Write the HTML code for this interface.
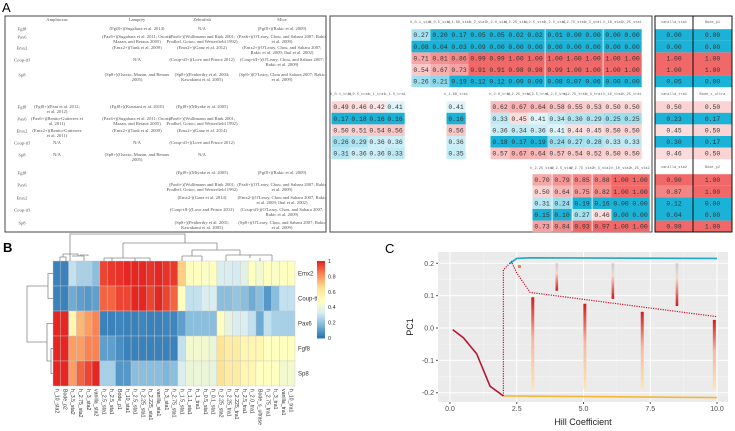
<!DOCTYPE html>
<html><head><meta charset="utf-8">
<style>
html,body{margin:0;padding:0;background:#fff;}
svg{display:block;font-family:"Liberation Sans",sans-serif;}
.ser{font-family:"Liberation Serif",serif;fill:#555;font-size:4.6px;}
.mono{font-family:"Liberation Mono",monospace;font-size:6.4px;fill:#333;}
.hd{font-family:"Liberation Mono",monospace;font-size:3.6px;fill:#666;}
</style></head>
<body>
<svg id="fig" width="735" height="431" viewBox="0 0 735 431" xmlns="http://www.w3.org/2000/svg">
<g>
<text x="2" y="12" font-size="13">A</text>
<rect x="5" y="16" width="321" height="216" fill="none" stroke="#444" stroke-width="1"/>
<g id="littable"></g>
<rect x="330" y="16" width="322" height="216" fill="none" stroke="#444" stroke-width="1"/>
<g id="valtable"></g>
<g id="sidetable"></g>
<rect x="655" y="16" width="77" height="216" fill="none" stroke="#111" stroke-width="1"/>
<line x1="693" y1="16" x2="693" y2="232" stroke="#111" stroke-width="1"/>
</g>
<g>
<text x="3" y="252" font-size="13" font-weight="bold">B</text>
<g id="heat"></g>
<g fill="none" stroke="#888" stroke-width="0.8">
<path d="M70 261 V234 H185 V243"/>
<path d="M60 261 V257 H66 V261"/><path d="M63 257 V254 H78 V256"/><path d="M72 256 H84 V261"/><path d="M80 256 V255 H88 V256"/>
<path d="M123 243 V258 M123 243 H217 V250"/>
<path d="M104 258 H150 M104 258 V261 M150 258 V261 M112 258 V261 M135 258 V261"/>
<path d="M192 250 H240 M192 250 V256 M240 250 V255"/>
<path d="M182 256 H202 M182 256 V261 M202 256 V261"/>
<path d="M226 255 H272 M226 255 V261 M272 255 V261 M250 255 V258 M260 258 V261"/>
</g>
<g fill="none" stroke="#888" stroke-width="0.8">
<path d="M53 273.5 H48 V298.5 H53"/>
<path d="M53 348.5 H51 V373.5 H53"/>
<path d="M53 323.5 H47 V361 H51"/>
<path d="M48 286 H27 V342 H47"/>
</g>
<g id="legend"></g>
</g>
<g>
<text x="385" y="253" font-size="13">C</text>
<g id="chartc"></g>
</g>
</svg>
<script>
const NS="http://www.w3.org/2000/svg";
function mk(parent,tag,attrs,text){const e=document.createElementNS(NS,tag);for(const k in attrs)e.setAttribute(k,attrs[k]);if(text!==undefined)e.textContent=text;parent.appendChild(e);return e;}

/* ---------- Panel A literature table ---------- */
const litHeaders=["Amphioxus","Lamprey","Zebrafish","Mice"];
const litGenes=["Fgf8","Pax6","Emx2","Coup-tfI","Sp8"];
const litRows=[
[["","(Fgf8+)(Sugahara et al. 2014)","N/A","(Fgf8+)(Rakic et al. 2009)"],
 ["","(Pax6+)(Sugahara et al. 2011; Osorio,|Mazan, and Retaux 2005)","(Pax6+)(Wullimann and Rink 2001;|Prodhel, Gotoo, and Westerfield 1992)","(Pax6+)(O'Leary, Chou, and Sahara 2007; Rakic|et al. 2009)"],
 ["","(Emx2+)(Tank et al. 2009)","(Emx2+)(Ganz et al. 2012)","(Emx2+)(O'Leary, Chou, and Sahara 2007;|Rakic et al. 2009; Ihul et al. 2002)"],
 ["","N/A","(Coup-tfI+)(Love and Prince 2012)","(Coup-tfI+)(O'Leary, Chou, and Sahara 2007;|Rakic et al. 2009)"],
 ["","(Sp8+)(Osorio, Mazan, and Retaux|2005)","(Sp8+)(Penberthy et al. 2004;|Kawakami et al. 2005)","(Sp8+)(O'Leary, Chou and Sahara 2007; Rakic|et al. 2009)"]],
[["(Fgf8+)(Pani et al. 2012;|et al. 2012)","(Fgf8+)(Kuratani et al. 2010)","(Fgf8+)(Miyake et al. 2005)",""],
 ["(Pax6+)(Benito-Gutierrez et|al. 2011)","(Pax6+)(Sugahara et al. 2011; Osorio,|Mazan, and Retaux 2005)","(Pax6+)(Wullimann and Rink 2001;|Prodhel, Gotoo, and Westerfield 1992)",""],
 ["(Emx2+)(Benito-Gutierrez|et al. 2011)","(Emx2+)(Tank et al. 2009)","(Emx2+)(Ganz et al. 2014)",""],
 ["N/A","N/A","(Coup-tfI+)(Love and Prince 2012)",""],
 ["N/A","(Sp8+)(Osorio, Mazan, and Retaux|2005)","N/A",""]],
[["","","(Fgf8+)(Miyake et al. 2005)","(Fgf8+)(Rakic et al. 2009)"],
 ["","","(Pax6+)(Wullimann and Rink 2001;|Prodhel, Gotoo, and Westerfield 1992)","(Pax6+)(O'Leary, Chou, and Sahara 2007; Rakic|et al. 2009)"],
 ["","","(Emx2-)(Ganz et al. 2014)","(Emx2-)(O'Leary, Chou and Sahara 2007; Rakic|et al. 2009; Ihul et al. 2002)"],
 ["","","(Coup-tfI-)(Love and Prince 2012)","(Coup-tfI-)(O'Leary, Chou, and Sahara 2007;|Rakic et al. 2009)"],
 ["","","(Sp8+)(Penberthy et al. 2001;|Kawakami et al. 2005)","(Sp8+)(O'Leary, Chou, and Sahara 2007; Rakic|et al. 2009)"]]];
const litY=[[29,37,48,60,75],[107,119,131,143,155],[173,185,198,210,223]];
const litX=[57,137,202,282];
(function(){const g=document.getElementById('littable');
 litHeaders.forEach((h,i)=>{const t=mk(g,'text',{x:litX[i],y:21,'text-anchor':'middle',class:'ser','font-size':'5'},h);});
 litRows.forEach((blk,b)=>blk.forEach((row,r)=>{
  const gl=mk(g,'text',{x:22,y:litY[b][r]+1.5,'text-anchor':'middle',class:'ser'},litGenes[r]);
  
  row.forEach((c,i)=>{if(!c)return;const parts=c.split('|');
   parts.forEach((p,k)=>{const t=mk(g,'text',{x:litX[i],y:litY[b][r]+1+k*5.2,'text-anchor':'middle',class:'ser','font-size':'3.5'},p);
    });});
 }));
})();

/* ---------- Panel A value table ---------- */
function mix(a,b,t){return 'rgb('+a.map((v,i)=>Math.round(v+(b[i]-v)*t)).join(',')+')';}
function cellColor(v,blueCut){const W=[255,255,255],B=[26,178,214],R=[240,104,104];
 if(v<0.42){if(v<=blueCut)return mix(W,B,1);return mix(W,B,Math.min(1,0.12+(0.42-v)/0.22*0.4));}
 if(v>=0.9)return mix(W,R,1);return mix(W,R,0.18+Math.min(1,(v-0.42)/0.5)*0.7);}
const blk1Vals=[[0.27,0.20,0.17,0.05,0.05,0.02,0.02,0.01,0.00,0.00,0.00,0.00],
[0.08,0.04,0.03,0.09,0.00,0.00,0.00,0.00,0.00,0.00,0.00,0.00],
[0.71,0.81,0.86,0.99,0.99,1.00,1.00,1.00,1.00,1.00,1.00,1.00],
[0.54,0.67,0.73,0.91,0.91,0.98,0.98,0.99,1.00,1.00,1.00,1.00],
[0.26,0.21,0.19,0.12,0.12,0.09,0.09,0.08,0.07,0.06,0.00,0.00]];
const blk1Heads=["h_0.1_sta1","h_0.5_sta1","h_1.66_sta1","h_2_sta1","h_2.0_sta1","h_2.25_sta1","h_2.5_sta1","h_2.5_sta1","h_2.75_sta1","h_3_sta1","h_10_sta1","h_25_sta1"];
const blk2Vals=[[0.49,0.46,0.42,0.41,0.41,0.62,0.67,0.64,0.58,0.55,0.53,0.50,0.50],
[0.17,0.18,0.16,0.16,0.16,0.33,0.45,0.41,0.34,0.30,0.29,0.25,0.25],
[0.50,0.51,0.54,0.56,0.56,0.36,0.34,0.36,0.41,0.44,0.45,0.50,0.50],
[0.26,0.29,0.36,0.36,0.36,0.18,0.17,0.19,0.24,0.27,0.28,0.33,0.33],
[0.31,0.36,0.36,0.33,0.35,0.57,0.67,0.64,0.57,0.54,0.52,0.50,0.50]];
const blk2Heads=["h_0.1_tra1","h_0.5_tra1","h_1_tra1","h_1.5_tra1","h_1.66_tra1","h_2.0_tra1","h_2.25_tra1","h_2.5_tra1","h_2.5_tra1","h_2.75_tra1","h_3_tra1","h_10_tra1","h_25_tra1"];
const blk3Vals=[[0.70,0.79,0.85,0.88,1.00,1.00],[0.50,0.64,0.75,0.82,1.00,1.00],[0.31,0.24,0.19,0.16,0.00,0.00],[0.15,0.10,0.27,0.46,0.00,0.00],[0.73,0.84,0.93,0.97,1.00,1.00]];
const blk3Heads=["h_2.25_sta2","h_2.5_sta2","h_2.75_sta2","h_3_sta2","h_10_sta2","h_25_sta2"];
const sideVals=[[[0,0],[0,0],[1,1],[1,1],[0.05,0]],[[0.50,0.50],[0.23,0.17],[0.45,0.50],[0.30,0.17],[0.46,0.50]],[[0.90,1.00],[0.87,1.00],[0.12,0.00],[0.04,0.00],[0.98,1.00]]];
const sideHeads=[["vanilla_sta1","Bode_p1"],["vanilla_tra1","Bode_s_ultra"],["vanilla_sta2","Bode_p2"]];
(function(){const g=document.getElementById('valtable');const h=11.6;
 function block(vals,heads,xs,y0,hy){vals.forEach((row,r)=>row.forEach((v,c)=>{
   const cx=xs[c],y=y0+r*h;
   const rc=mk(g,'rect',{x:cx-9.5,y:y-h/2,width:19.2,height:h,fill:cellColor(v,0.2)});
   
   mk(g,'text',{x:cx,y:y+2.2,'text-anchor':'middle',class:'mono'},v.toFixed(2));}));
  heads.forEach((t,c)=>{mk(g,'text',{x:xs[c],y:hy,'text-anchor':'middle',class:'hd'},t);});}
 block(blk1Vals,blk1Heads,[421,440,459,478,497,516,535,555,574,593,613,632],35,23);
 block(blk2Vals,blk2Heads,[341,359,377,395,456,500,519,538,557,575,594,613,632],107,95);
 block(blk3Vals,blk3Heads,[542,562,582,602,621,640],180,169);
 const sg=document.getElementById('sidetable');const ys=[35,107,180];
 sideVals.forEach((blk,b)=>{blk.forEach((row,r)=>row.forEach((v,c)=>{const cx=c?712.5:674,y=ys[b]+r*h;
   const rc=mk(sg,'rect',{x:c?693:655,y:y-h/2,width:c?39:38,height:h,fill:cellColor(v,0.31)});
   
   mk(sg,'text',{x:cx,y:y+2.2,'text-anchor':'middle',class:'mono'},v.toFixed(2));}));
  sideHeads[b].forEach((t,c)=>mk(sg,'text',{x:c?712.5:674,y:ys[b]-12,'text-anchor':'middle',class:'hd'},t));});
})();

/* ---------- Panel B heatmap ---------- */
const heatRows=["Emx2","Coup-tf","Pax6","Fgf8","Sp8"];
const heatCols=["h_10_sta2","Bode_p2","h_3.5_sta2","h_2.75_sta2","h_3_sta2","vanilla_sta2","h_2.5_sta1","h_2.5_sta1","Bode_p1","h_10_sta1","h_2.5_sta1","h_2.25_sta1","h_2.225_sta1","vanilla_sta1","h_3_sta1","h_2.75_sta1","h_1.5_sta1","h_1.1_sta1","h_1_tra1","h_0.5_sta1","h_0.1_sta1","h_2.25_sta2","h_2.25_tra1","h_2.225_tra1","h_2.5_tra1","h_2.0_tra1","Bode_s_ultrase","h_2.75_tra1","h_3_tra1","vanilla_tra1","h_10_tra1"];
const emx2Vals=[0.05,0.05,0.3,0.25,0.25,0.2,0.95,0.97,0.98,1,1,1,0.98,1,0.98,0.97,0.7,0.5,0.5,0.48,0.5,0.35,0.35,0.33,0.38,0.5,0.45,0.5,0.48,0.5,0.5];
const couptfVals=[0.05,0.05,0.15,0.12,0.1,0.12,0.9,0.9,0.95,0.95,1,1,0.95,1,0.95,0.9,0.5,0.3,0.3,0.35,0.35,0.2,0.2,0.22,0.2,0.15,0.2,0.1,0.2,0.3,0.3];
const pax6Vals=[1,1,0.55,0.75,0.8,0.85,0.05,0.05,0.06,0.05,0.05,0.06,0.05,0.05,0.06,0.06,0.12,0.2,0.2,0.2,0.2,0.5,0.4,0.35,0.35,0.3,0.15,0.3,0.25,0.25,0.25];
const fgf8Vals=[1,1,0.8,0.8,0.85,0.85,0.12,0.12,0.08,0.05,0.05,0.05,0.05,0.05,0.05,0.05,0.3,0.45,0.45,0.45,0.42,0.65,0.6,0.6,0.55,0.55,0.55,0.5,0.5,0.5,0.5];
const sp8Vals=[1,1,0.8,0.9,0.95,1,0.25,0.25,0.1,0.1,0.2,0.2,0.2,0.2,0.18,0.2,0.35,0.42,0.42,0.42,0.4,0.65,0.6,0.6,0.55,0.55,0.5,0.5,0.5,0.45,0.45];
const heatVals=[emx2Vals,couptfVals,pax6Vals,fgf8Vals,sp8Vals];
const legendTicks=[0,0.2,0.4,0.6,0.8,1];
const pal=[[33,110,176],[120,178,214],[214,236,244],[255,255,191],[254,224,144],[252,141,89],[230,38,34]];
function heatColor(v){v=Math.max(0,Math.min(1,v));const p=v*6,i=Math.min(5,Math.floor(p));return mix(pal[i],pal[i+1],p-i);}
(function(){const g=document.getElementById('heat');const x0=53,x1=295,y0=261,rh=25;const cw=(x1-x0)/heatCols.length;
 const xs=i=>x0+i*cw, ys=r=>y0+r*rh;
 heatVals.forEach((row,r)=>row.forEach((v,c)=>{const e=mk(g,'rect',{x:xs(c),y:ys(r),width:cw,height:rh,fill:heatColor(v),stroke:'#c9c9c9','stroke-width':0.4});
  }));
 heatRows.forEach((n,r)=>{const t=mk(g,'text',{x:298,y:ys(r)+rh/2+2,'font-size':'6',fill:'#333'},n);});
 heatCols.forEach((n,c)=>{const cx=xs(c)+cw/2;const t=mk(g,'text',{x:cx,y:389,'font-size':'5.2',fill:'#333',transform:`rotate(90 ${cx} 389)`,'dominant-baseline':'middle'},n);});
 const lg=document.getElementById('legend');const ly0=261,ly1=338;
 for(let i=0;i<40;i++){const v=1-i/40;mk(lg,'rect',{x:317,y:ly0+i*(ly1-ly0)/40,width:8,height:(ly1-ly0)/40+0.5,fill:heatColor(v)});}
 legendTicks.forEach(t=>{const y=ly1-t*(ly1-ly0);const e=mk(lg,'text',{x:328,y:y+2,'font-size':'5.5',fill:'#333'},String(t));});
})();

/* ---------- Panel C chart ---------- */
const xTicks=[0,2.5,5,7.5,10];
const yTicks=[-0.2,-0.1,0,0.1,0.2];
const solidRedX=[0.1,0.5,1,1.5,2];
const solidRedY=[-0.005,-0.03,-0.08,-0.18,-0.21];
const dottedRedX=[2,2,2.3,2.5,3,10];
const dottedRedY=[-0.21,0.18,0.205,0.17,0.11,0.035];
const blueX=[2.25,2.5,3,10];
const blueY=[0.2,0.215,0.217,0.215];
const orangeX=[2,10];
const orangeY=[-0.21,-0.215];
const upperBarX=[4.0,6.1,8.5];
const upperBarTop=[0.2,0.2,0.2];
const upperBarBottom=[0.115,0.09,0.068];
const lowerBarX=[3.1,5.05,7.2,9.9];
const lowerBarTop=[0.095,0.075,0.05,0.025];
const lowerBarBottom=[-0.19,-0.19,-0.19,-0.19];
(function(){const g=document.getElementById('chartc');
 const L=438,R=728,T=252,B=402;
 const sx=v=>450+v*26.7, sy=v=>328-v*323.5;
 mk(g,'rect',{x:L,y:T,width:R-L,height:B-T,fill:'#ebebeb'});
 const defs=mk(g,'defs',{});
 const g1=mk(defs,'linearGradient',{id:'gu',x1:0,y1:0,x2:0,y2:1});mk(g1,'stop',{offset:0,'stop-color':'#c8ccd8'});mk(g1,'stop',{offset:0.35,'stop-color':'#f4d8c8'});mk(g1,'stop',{offset:1,'stop-color':'#d01818'});
 const g2=mk(defs,'linearGradient',{id:'gl',x1:0,y1:0,x2:0,y2:1});mk(g2,'stop',{offset:0,'stop-color':'#d41a1a'});mk(g2,'stop',{offset:0.45,'stop-color':'#f6b8a0'});mk(g2,'stop',{offset:1,'stop-color':'#fde6b0'});
 xTicks.forEach((t,i)=>{if(i<xTicks.length-1)mk(g,'line',{x1:sx(t+1.25),x2:sx(t+1.25),y1:T,y2:B,stroke:'#f5f5f5','stroke-width':0.5});});
 yTicks.forEach((t,i)=>{if(i<yTicks.length-1)mk(g,'line',{x1:L,x2:R,y1:sy(t+0.05),y2:sy(t+0.05),stroke:'#f5f5f5','stroke-width':0.5});});
 xTicks.forEach(t=>{mk(g,'line',{x1:sx(t),x2:sx(t),y1:T,y2:B,stroke:'#fff','stroke-width':1});mk(g,'line',{x1:sx(t),x2:sx(t),y1:B,y2:B+2,stroke:'#555'});
  const e=mk(g,'text',{x:sx(t),y:B+9,'text-anchor':'middle','font-size':'7',fill:'#4d4d4d'},t.toFixed(1));});
 yTicks.forEach(t=>{mk(g,'line',{x1:L,x2:R,y1:sy(t),y2:sy(t),stroke:'#fff','stroke-width':1});mk(g,'line',{x1:L-2,x2:L,y1:sy(t),y2:sy(t),stroke:'#555'});
  const e=mk(g,'text',{x:L-4,y:sy(t)+2.5,'text-anchor':'end','font-size':'7',fill:'#4d4d4d'},t.toFixed(1));});
 upperBarX.forEach((x,i)=>{const e=mk(g,'rect',{x:sx(x)-1.3,y:sy(upperBarTop[i]),width:2.6,height:sy(upperBarBottom[i])-sy(upperBarTop[i]),fill:'url(#gu)'});});
 lowerBarX.forEach((x,i)=>{const e=mk(g,'rect',{x:sx(x)-1.5,y:sy(lowerBarTop[i]),width:3,height:sy(lowerBarBottom[i])-sy(lowerBarTop[i]),fill:'url(#gl)'});});
 const pts=(X,Y)=>X.map((x,i)=>sx(x)+','+sy(Y[i])).join(' ');
 let e;
 e=mk(g,'polyline',{points:pts(orangeX,orangeY),fill:'none',stroke:'#f4b836','stroke-width':1.6});
 e=mk(g,'polyline',{points:pts(blueX,blueY),fill:'none',stroke:'#22a6c8','stroke-width':1.6});
 e=mk(g,'polyline',{points:pts(solidRedX,solidRedY),fill:'none',stroke:'#b5172b','stroke-width':1.6});
 e=mk(g,'polyline',{points:pts(dottedRedX,dottedRedY),fill:'none',stroke:'#c2182e','stroke-width':1.2,'stroke-dasharray':'1.2 1.2'});
 e=mk(g,'rect',{x:sx(2.6)-1.5,y:sy(0.19)-1.5,width:3,height:3,fill:'#e9843a'});
 e=mk(g,'text',{x:583,y:425,'text-anchor':'middle','font-size':'9',fill:'#222'},'Hill Coefficient');
 e=mk(g,'text',{x:413,y:327,'text-anchor':'middle','font-size':'9',fill:'#222',transform:'rotate(-90 413 327)'},'PC1');
})();
</script>
</body></html>
